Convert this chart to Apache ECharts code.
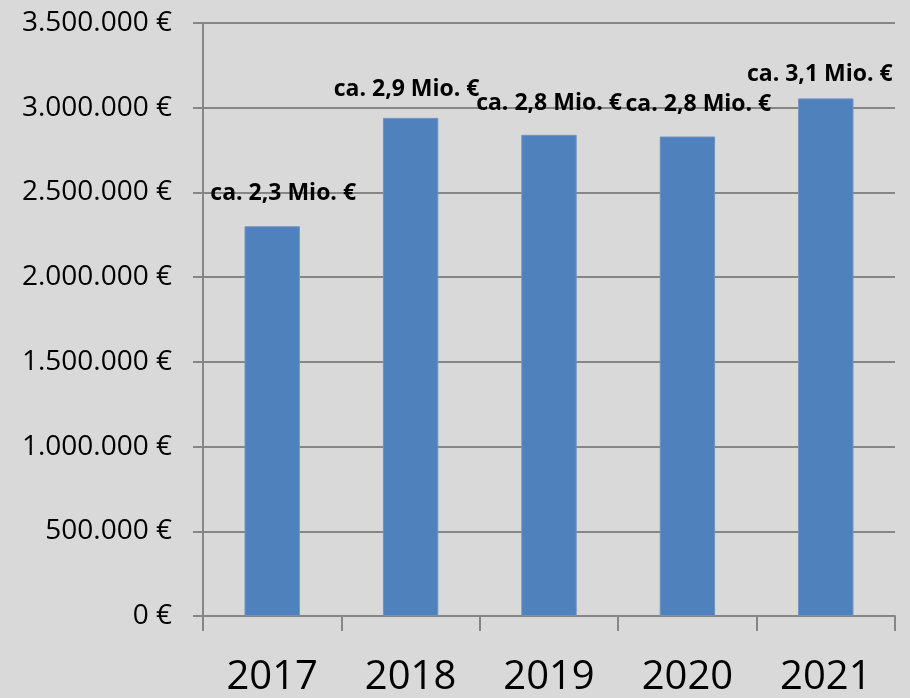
<!DOCTYPE html>
<html>
<head>
<meta charset="utf-8">
<script src="https://cdn.jsdelivr.net/npm/echarts@6/dist/echarts.min.js"></script>
<style>
  html, body {margin: 0; padding: 0; background: #d9d9d9;}
  #chart {width: 910px; height: 698px;}
</style>
</head>
<body>
<div id="chart"></div>
<script>
const years = ['2017', '2018', '2019', '2020', '2021'];
const amounts = [2300000, 2940000, 2840000, 2830000, 3055000];
const barLabels = ['ca. 2,3 Mio. €', 'ca. 2,9 Mio. €', 'ca. 2,8 Mio. €', 'ca. 2,8 Mio. €', 'ca. 3,1 Mio. €'];
// hand-placed labels in the original, nudged per bar
const labelNudge = [[11, -1], [-4, 3], [0, 0], [11, -1], [-6, 8]];

const axisGray = '#868686';
const font = '"Open Sans", "Noto Sans", sans-serif';

function euro(v) {
  return String(v).replace(/\B(?=(\d{3})+(?!\d))/g, '.') + ' €';
}

const chart = echarts.init(document.getElementById('chart'));
chart.setOption({
  backgroundColor: '#d9d9d9',
  animation: false,
  grid: {left: 203, right: 15, top: 23, bottom: 81, containLabel: false},
  xAxis: {
    type: 'category',
    data: years,
    boundaryGap: true,
    axisLine: {lineStyle: {color: axisGray, width: 2}},
    axisTick: {show: true, length: 15, lineStyle: {color: axisGray, width: 2}},
    axisLabel: {color: '#000', fontSize: 40, fontFamily: font, margin: 42}
  },
  yAxis: {
    type: 'value',
    min: 0,
    max: 3500000,
    interval: 500000,
    axisLine: {show: true, lineStyle: {color: axisGray, width: 2}},
    axisTick: {show: true, length: 10, lineStyle: {color: axisGray, width: 2}},
    splitLine: {show: true, lineStyle: {color: axisGray, width: 2}},
    axisLabel: {color: '#000', fontSize: 28, fontFamily: font, margin: 31, formatter: euro}
  },
  series: [{
    type: 'bar',
    barWidth: '40%',
    itemStyle: {color: '#4f81bd', borderColor: '#6b93c6', borderWidth: 1},
    data: amounts.map((v, i) => ({
      value: v,
      label: {
        show: true,
        position: 'top',
        distance: 20,
        offset: labelNudge[i],
        formatter: barLabels[i],
        color: '#000',
        fontSize: 23,
        fontWeight: 'bold',
        fontFamily: font
      }
    }))
  }]
});
</script>
</body>
</html>
